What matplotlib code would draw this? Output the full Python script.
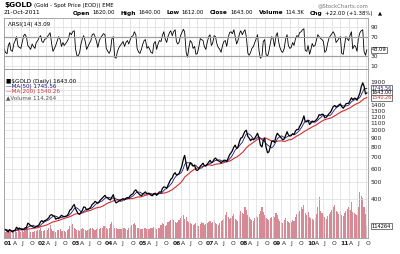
import matplotlib
matplotlib.use('Agg')
import matplotlib.pyplot as plt
import matplotlib.ticker as mticker
import matplotlib.transforms as mtransforms
import pandas as pd

# semi-monthly closes, Jan 2001 .. 21 Oct 2011
price = [
    268, 265, 262, 258, 266, 262, 258, 262, 265, 275, 268, 272,
    268, 266, 267, 272, 275, 290, 286, 280, 278, 275, 274, 278,
    280, 284, 296, 300, 294, 300, 302, 306, 312, 322, 325, 320,
    318, 306, 310, 308, 316, 322, 318, 316, 318, 320, 330, 345,
    350, 362, 372, 352, 340, 330, 326, 335, 345, 360, 358, 346,
    348, 352, 360, 372, 378, 388, 382, 378, 388, 396, 404, 412,
    420, 408, 405, 398, 395, 410, 424, 392, 380, 384, 390, 393,
    398, 402, 396, 404, 408, 406, 418, 424, 430, 444, 452, 440,
    430, 422, 418, 428, 434, 440, 428, 432, 428, 420, 418, 430,
    432, 420, 432, 440, 438, 460, 470, 468, 462, 480, 500, 520,
    530, 555, 568, 550, 555, 560, 590, 620, 680, 715, 640, 585,
    620, 650, 640, 620, 625, 590, 585, 595, 620, 630, 645, 625,
    620, 635, 655, 670, 650, 655, 680, 690, 675, 665, 660, 648,
    660, 670, 670, 660, 690, 720, 740, 760, 800, 820, 785, 800,
    860, 900, 910, 950, 985, 1000, 920, 900, 870, 890, 880, 900,
    930, 960, 900, 820, 800, 870, 900, 800, 740, 750, 800, 860,
    870, 850, 920, 960, 940, 920, 900, 880, 890, 930, 980, 940,
    925, 930, 955, 945, 990, 1010, 1010, 1050, 1090, 1140, 1210, 1120,
    1120, 1140, 1080, 1100, 1130, 1120, 1130, 1150, 1180, 1230, 1220, 1240,
    1230, 1180, 1190, 1215, 1250, 1270, 1320, 1370, 1390, 1360, 1380, 1400,
    1420, 1370, 1340, 1370, 1420, 1430, 1430, 1480, 1540, 1500, 1530, 1530,
    1490, 1560, 1640, 1780, 1880, 1800, 1620, 1643,
]

rsi = [
    45, 38, 35, 52, 58, 42, 40, 55, 62, 70, 50, 48, 46, 58, 72, 75, 68, 52, 48, 44, 55, 50, 46, 58,
    62, 68, 72, 60, 58, 64, 66, 70, 74, 78, 55, 40, 46, 52, 62, 70, 64, 50, 58, 52, 56, 60, 66, 78,
    74, 80, 82, 45, 32, 30, 38, 55, 66, 72, 60, 44, 50, 56, 62, 74, 76, 70, 60, 48, 62, 68, 72, 76,
    74, 46, 40, 36, 42, 65, 70, 28, 26, 40, 48, 52, 56, 60, 50, 58, 62, 55, 64, 70, 72, 80, 74, 46,
    38, 36, 45, 55, 62, 64, 46, 50, 44, 38, 36, 56, 60, 44, 56, 62, 60, 72, 80, 66, 58, 70, 78, 82,
    72, 80, 84, 60, 55, 58, 72, 78, 85, 80, 38, 28, 48, 62, 58, 46, 50, 34, 36, 48, 66, 64, 62, 50,
    44, 58, 70, 74, 52, 56, 72, 70, 55, 48, 44, 38, 52, 60, 62, 50, 68, 78, 80, 76, 84, 70, 55, 62,
    76, 82, 74, 80, 84, 70, 36, 32, 38, 46, 50, 58, 66, 74, 40, 26, 30, 60, 64, 34, 30, 40, 56, 70,
    66, 50, 72, 78, 60, 48, 40, 38, 46, 64, 74, 52, 46, 48, 58, 52, 66, 72, 70, 78, 80, 84, 86, 42,
    40, 52, 34, 44, 56, 50, 52, 62, 74, 70, 66, 64, 60, 38, 42, 56, 68, 72, 76, 80, 74, 58, 62, 66,
    70, 36, 34, 52, 70, 66, 62, 72, 80, 45, 52, 50, 40, 66, 78, 82, 84, 40, 32, 43.09,
]

# volume in thousands
volume = [
    55, 60, 70, 58, 62, 75, 68, 60, 64, 58, 90, 70, 62, 66, 60, 72, 110, 85, 66, 60, 58, 62, 64, 70,
    72, 80, 95, 70, 66, 74, 68, 80, 92, 120, 88, 70, 66, 62, 74, 80, 86, 70, 66, 64, 60, 72, 90, 110,
    120, 130, 100, 90, 80, 76, 70, 88, 96, 84, 74, 70, 78, 90, 95, 100, 86, 80, 88, 92, 85, 96, 100, 110,
    115, 96, 90, 100, 130, 150, 120, 100, 92, 88, 86, 90, 84, 100, 92, 86, 80, 100, 108, 120, 130, 140, 120, 100,
    96, 90, 88, 86, 100, 94, 88, 90, 86, 96, 100, 104, 92, 88, 96, 100, 120, 140, 130, 110, 120, 150, 160, 170,
    180, 170, 150, 140, 150, 170, 190, 210, 220, 180, 200, 160, 150, 140, 130, 120, 130, 140, 120, 110, 130, 150, 140, 120,
    130, 140, 150, 160, 140, 150, 170, 140, 130, 120, 140, 160, 170, 180, 220, 250, 200, 180, 190, 210, 230, 180, 170, 160,
    220, 260, 240, 230, 300, 270, 220, 200, 180, 170, 160, 190, 210, 200, 230, 260, 300, 250, 220, 190, 180, 170, 190, 200,
    210, 200, 240, 220, 180, 160, 150, 140, 170, 190, 160, 150, 140, 150, 170, 160, 200, 230, 240, 260, 300, 280, 320, 240,
    220, 250, 200, 190, 180, 170, 190, 230, 300, 390, 260, 240, 220, 200, 180, 210, 230, 250, 270, 300, 320, 260, 250, 230,
    260, 220, 210, 240, 260, 280, 300, 270, 340, 250, 240, 230, 220, 300, 440, 400, 380, 300, 230, 114.264,
]

price_ticks = [400, 500, 600, 700, 800, 900, 1000, 1100, 1200, 1300, 1400, 1900]

dates = pd.date_range('2001-01-01', periods=len(price), freq='SMS')
ma50 = pd.Series(price).rolling(5, min_periods=1).mean()
ma200 = pd.Series(price).rolling(19, min_periods=1).mean()

quarters = pd.date_range('2001-01-01', '2011-10-01', freq='QS')
qnames = {4: 'A', 7: 'J', 10: 'O'}
qlabels = ['%02d' % (d.year % 100) if d.month == 1 else qnames[d.month] for d in quarters]

W, H = 400, 254
fig = plt.figure(figsize=(4, 2.54), dpi=100)
fs = 4.3
grid_c = '#dcdcdc'
xlim = (pd.Timestamp('2000-12-30'), pd.Timestamp('2011-10-28'))


def fx(px):
    return px / W


def fy(py):
    return 1 - py / H


def style(ax):
    for s in ax.spines.values():
        s.set_color('#999999')
        s.set_linewidth(0.6)
    ax.set_xlim(*xlim)
    ax.set_xticks(quarters)
    ax.tick_params(length=0, labelsize=fs, colors='#222222', pad=2)
    ax.grid(True, color=grid_c, lw=0.5)
    ax.set_axisbelow(True)


# header
fig.text(fx(4), fy(5), '$GOLD', fontsize=5.3, weight='bold', va='center')
fig.text(fx(34), fy(5), '(Gold - Spot Price (EOD)) EME', fontsize=3.9, va='center')
fig.text(fx(4), fy(13), '21-Oct-2011', fontsize=4.2, va='center')
fig.text(fx(318), fy(6), '@StockCharts.com', fontsize=3.9, color='#777777', va='center')

hdr = [('Open', '1620.00'), ('High', '1640.00'), ('Low', '1612.00'), ('Close', '1643.00'),
       ('Volume', '114.3K'), ('Chg', '+22.00 (+1.38%)')]
renderer = fig.canvas.get_renderer()
x = 73.0
for lab, val in hdr:
    t = fig.text(fx(x), fy(13), lab, fontsize=4.2, weight='bold', va='center')
    x += t.get_window_extent(renderer).width + 2
    t = fig.text(fx(x), fy(13), val, fontsize=3.9, va='center')
    x += t.get_window_extent(renderer).width + 6
fig.text(fx(max(x, 362)), fy(13), '\u25b2', fontsize=3.8, va='center')

# RSI panel
ax_r = fig.add_axes([fx(4), fy(69), fx(368) - fx(4), fy(18) - fy(69)])
style(ax_r)
ax_r.plot(dates, rsi, color='black', lw=0.6)
ax_r.axhline(70, color='#a0a0a0', lw=0.9)
ax_r.axhline(30, color='#a0a0a0', lw=0.9)
ax_r.set_ylim(4, 108)
ax_r.set_yticks([10, 30, 50, 70, 90])
ax_r.yaxis.tick_right()
ax_r.set_yticklabels(['10', '30', '', '70', '90'])
ax_r.set_xticklabels([])
ax_r.text(0.012, 0.88, '\u039bRSI(14) 43.09', transform=ax_r.transAxes, fontsize=4.1, va='center')
trr = mtransforms.blended_transform_factory(ax_r.transAxes, ax_r.transData)
ax_r.text(1.01, rsi[-1], '%.2f' % rsi[-1], transform=trr, fontsize=3.7, va='center',
          bbox=dict(boxstyle='square,pad=0.12', fc='white', ec='#444444', lw=0.5))

# price panel with volume behind
ax_v = fig.add_axes([fx(4), fy(238), fx(368) - fx(4), fy(69) - fy(238)])
ax_v.bar(dates, volume, width=12, color='#d58a96', linewidth=0)
ax_v.set_xlim(*xlim)
ax_v.set_ylim(0, 1615)
ax_v.axis('off')

ax = fig.add_axes([fx(4), fy(238), fx(368) - fx(4), fy(69) - fy(238)])
ax.patch.set_alpha(0)
style(ax)
ax.set_yscale('log')
ax.set_ylim(238, 2260)
ax.yaxis.tick_right()
ax.set_yticks(price_ticks)
ax.set_yticklabels([str(v) for v in price_ticks])
ax.set_yticks([1500, 1600, 1700, 1800], minor=True)
ax.yaxis.set_minor_formatter(mticker.NullFormatter())
ax.tick_params(which='minor', length=0)
ax.grid(True, which='minor', axis='y', color=grid_c, lw=0.5)
ax.set_xticklabels(qlabels)
for lab, q in zip(ax.get_xticklabels(), quarters):
    lab.set_ha('left')
    if q.month == 1:
        lab.set_weight('bold')
ax.plot(dates, ma200, color='#d03030', lw=0.8)
ax.plot(dates, ma50, color='#1c1c80', lw=0.6)
ax.plot(dates, price, color='black', lw=0.9)
ax_v.set_zorder(0)
ax.set_zorder(1)

# legend text
leg = [(81, '\u25a0$GOLD (Daily) 1643.00', 'black'), (86.5, '\u2014MA(50) 1745.56', '#1c1c80'),
       (92, '\u2014MA(200) 1540.26', '#d03030'), (97.5, '\u25b2Volume 114,264', '#555555')]
for y, t, c in leg:
    fig.text(fx(6), fy(y), t, fontsize=4.1, color=c, va='center')

trp = mtransforms.blended_transform_factory(ax.transAxes, ax.transData)
for val, txt, c in [(1745.56, '1745.56', '#1c1c80'), (1643.0, '1643.00', 'black'), (1540.26, '1540.26', '#d03030')]:
    ax.text(1.01, val, txt, transform=trp, fontsize=3.5, va='center', color=c,
            bbox=dict(boxstyle='square,pad=0.1', fc='white', ec='#444444', lw=0.5))
trv = mtransforms.blended_transform_factory(ax_v.transAxes, ax_v.transData)
ax_v.text(1.01, volume[-1], '114264', transform=trv, fontsize=3.7, va='center',
          bbox=dict(boxstyle='square,pad=0.12', fc='white', ec='#444444', lw=0.5))

fig.savefig('out.png', dpi=100)
